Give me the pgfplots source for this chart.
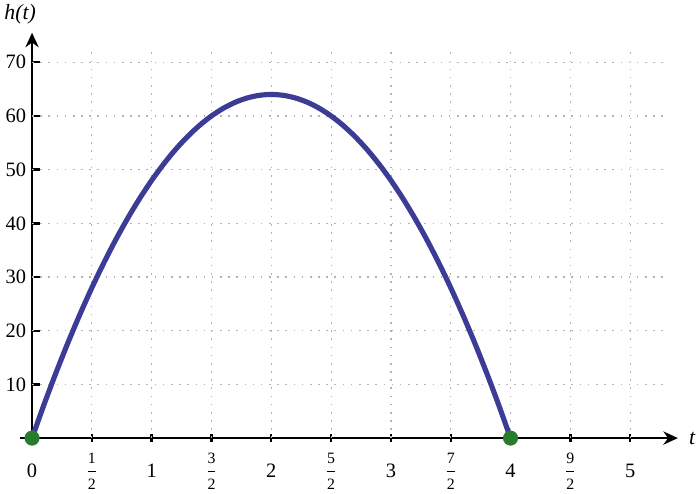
\documentclass[border=0pt]{standalone}
\usepackage{fontspec}
\setmainfont{Liberation Serif}
\usepackage{amsmath}
\usepackage{pgfplots}
\pgfplotsset{compat=1.18}
\usetikzlibrary{arrows.meta}
\definecolor{curveblue}{RGB}{60,60,150}
\definecolor{dotgreen}{RGB}{40,125,45}
\newcommand{\fr}[2]{$\genfrac{}{}{0.7pt}{0}{\mbox{\fontsize{12}{12}\selectfont #1}}{\mbox{\fontsize{12}{12}\selectfont #2}}$}
\begin{document}
\begin{tikzpicture}
\begin{axis}[
  scale only axis,
  width=490pt, height=296.5pt,
  axis lines=middle,
  xmin=-0.1, xmax=5.3, ymin=0, ymax=72.8,
  clip=false,
  axis line style={line width=1.8pt},
  x axis line style={-{Stealth[length=11pt,width=10pt]}, shorten >=-9pt},
  y axis line style={-{Stealth[length=11pt,width=10pt]}, shorten >=-11pt},
  xtick={0,0.5,1,1.5,2,2.5,3,3.5,4,4.5,5},
  xticklabels={0,\fr{1}{2},1,\fr{3}{2},2,\fr{5}{2},3,\fr{7}{2},4,\fr{9}{2},5},
  ytick={10,20,30,40,50,60,70},
  hide obscured x ticks=false,
  xtick align=center, ytick align=inside,
  major tick length=6pt,
  every tick/.style={black, line width=1.8pt},
  tick label style={font=\fontsize{15.5}{17}\selectfont},
  /pgf/number format/assume math mode=true,
  xticklabel style={anchor=center, yshift=-22pt},
  yticklabel style={xshift=-1pt},
  xlabel={\textit{t}}, ylabel={\textit{h(t)}},
  label style={font=\fontsize{16.5}{18}\selectfont},
  xlabel style={at={(axis description cs:1,0)}, anchor=west, xshift=14pt},
  ylabel style={at={(axis description cs:0,1)}, anchor=south, xshift=0pt, yshift=14pt},
]
\pgfplotsinvokeforeach{0.5,1,1.5,2,2.5,3,3.5,4,4.5,5}{
  \draw[gray!60, line width=0.9pt, dash pattern=on 1.2pt off 5pt] (axis cs:#1,0) -- (axis cs:#1,72.8);
}
\pgfplotsinvokeforeach{10,20,30,40,50,60,70}{
  \draw[gray!60, line width=0.9pt, dash pattern=on 1.2pt off 5pt] (axis cs:0,#1) -- (axis cs:5.3,#1);
}
\addplot[curveblue, line width=3.9pt, smooth] coordinates {
(0,0) (0.1,6.24) (0.2,12.16) (0.3,17.76) (0.4,23.04) (0.5,28) (0.6,32.64) (0.7,36.96) (0.8,40.96) (0.9,44.64)
(1,48) (1.1,51.04) (1.2,53.76) (1.3,56.16) (1.4,58.24) (1.5,60) (1.6,61.44) (1.7,62.56) (1.8,63.36) (1.9,63.84)
(2,64) (2.1,63.84) (2.2,63.36) (2.3,62.56) (2.4,61.44) (2.5,60) (2.6,58.24) (2.7,56.16) (2.8,53.76) (2.9,51.04)
(3,48) (3.1,44.64) (3.2,40.96) (3.3,36.96) (3.4,32.64) (3.5,28) (3.6,23.04) (3.7,17.76) (3.8,12.16) (3.9,6.24) (4,0)
};
\addplot[only marks, mark=*, mark size=5.5pt, dotgreen] coordinates {(0,0) (4,0)};
\end{axis}
\end{tikzpicture}
\end{document}
